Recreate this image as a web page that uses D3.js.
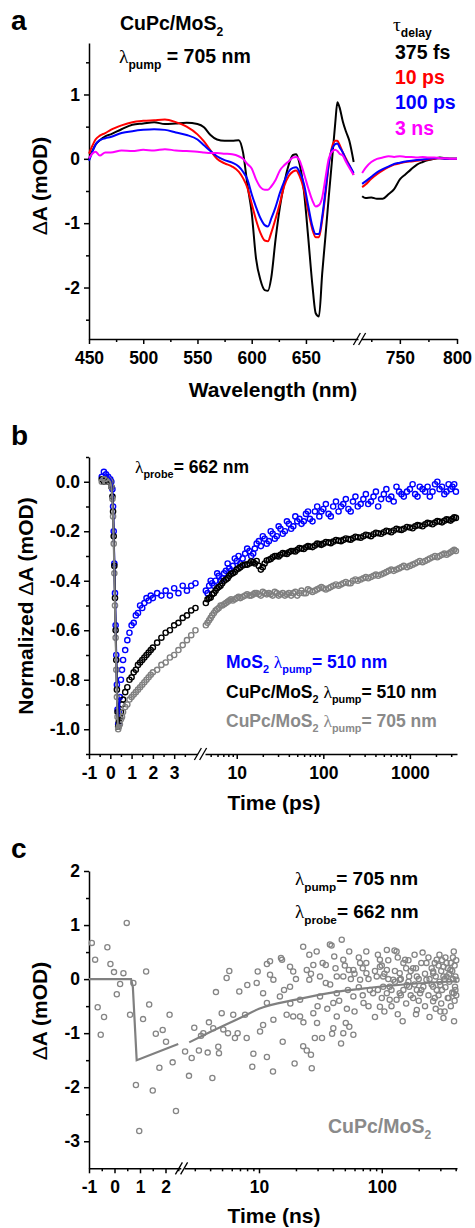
<!DOCTYPE html>
<html>
<head>
<meta charset="utf-8">
<script src="https://cdn.jsdelivr.net/npm/d3@7"></script>
<style>
  body { margin: 0; background: #fff; }
  svg { display: block; font-family: "Liberation Sans", Arial, sans-serif; font-weight: bold; }
  .axis path, .axis line { stroke: #000; stroke-width: 1.5; }
  .axis text { font-family: "Liberation Sans", Arial, sans-serif; font-weight: bold; font-size: 17.5px; fill: #000; }
</style>
</head>
<body>
<script>
// ---------- panel a: transient spectra ----------
const wavelengths = [450, 453, 456, 460, 465, 470, 480, 490, 500, 510, 520, 530, 540, 550, 556, 562, 568, 575, 582, 588,
  592, 596, 600, 604, 608, 612, 615, 618, 622, 626, 630, 634, 638, 641, 644, 648, 652, 656, 659, 662,
  665, 668, 671, 674, 677, 679, 681, 684, 687, 690, 694,
  717, 720, 725, 730, 735, 740, 745, 750, 755, 760, 765, 770, 775, 780, 785, 790, 795, 800];
const delay375fs = [0.0, 0.12, 0.22, 0.29, 0.35, 0.38, 0.46, 0.53, 0.55, 0.57, 0.54, 0.55, 0.56, 0.54, 0.49, 0.37, 0.3, 0.28, 0.28, 0.29,
  0.1, -0.4, -0.84, -1.55, -1.88, -2.04, -2.05, -1.85, -1.25, -0.75, -0.38, -0.1, 0.06, 0.07, -0.07, -0.48, -1.2, -1.97, -2.4, -2.45,
  -1.78, -1.2, -0.6, -0.03, 0.55, 0.88, 0.8, 0.58, 0.42, 0.28, -0.05,
  -0.58, -0.61, -0.6, -0.62, -0.62, -0.55, -0.47, -0.32, -0.24, -0.16, -0.09, -0.05, -0.02, 0.0, 0.02, 0.01, 0.0, 0.0];
const delay10ps = [0.08, 0.2, 0.3, 0.36, 0.4, 0.45, 0.52, 0.57, 0.59, 0.6, 0.61, 0.57, 0.5, 0.38, 0.27, 0.13, 0.0, -0.07, -0.12, -0.2,
  -0.3, -0.45, -0.7, -0.95, -1.15, -1.27, -1.28, -1.15, -0.93, -0.69, -0.42, -0.27, -0.2, -0.18, -0.26, -0.47, -0.8, -1.1, -1.22, -1.22,
  -0.95, -0.55, -0.1, 0.18, 0.28, 0.28, 0.22, 0.1, 0.0, -0.1, -0.25,
  -0.44, -0.4, -0.31, -0.24, -0.18, -0.13, -0.09, -0.07, -0.05, -0.04, -0.03, -0.02, -0.01, 0.0, 0.01, 0.0, 0.0, 0.0];
const delay100ps = [-0.03, 0.1, 0.22, 0.29, 0.32, 0.34, 0.4, 0.43, 0.45, 0.46, 0.45, 0.41, 0.37, 0.3, 0.21, 0.12, 0.04, -0.02, -0.06, -0.12,
  -0.2, -0.32, -0.55, -0.75, -0.92, -1.03, -1.05, -0.93, -0.75, -0.53, -0.35, -0.2, -0.14, -0.13, -0.2, -0.38, -0.72, -1.05, -1.17, -1.17,
  -0.9, -0.5, -0.08, 0.15, 0.23, 0.24, 0.18, 0.1, -0.02, -0.1, -0.22,
  -0.39, -0.35, -0.28, -0.21, -0.16, -0.12, -0.08, -0.06, -0.04, -0.03, -0.02, -0.01, 0.0, 0.01, 0.01, 0.0, 0.0, 0.0];
const delay3ns = [0.01, 0.08, 0.11, 0.05, 0.1, 0.1, 0.13, 0.12, 0.14, 0.13, 0.15, 0.13, 0.12, 0.11, 0.1, 0.09, 0.09, 0.08, 0.07, 0.04,
  0.0, -0.08, -0.15, -0.32, -0.44, -0.48, -0.48, -0.43, -0.33, -0.18, -0.1, -0.04, 0.02, 0.03, -0.02, -0.22, -0.45, -0.65, -0.74, -0.72,
  -0.6, -0.3, 0.0, 0.11, 0.14, 0.12, 0.08, 0.05, -0.05, -0.14, -0.25,
  -0.22, -0.14, -0.05, 0.0, 0.02, 0.04, 0.03, 0.04, 0.03, 0.03, 0.02, 0.03, 0.02, 0.02, 0.01, 0.01, 0.0, 0.0];
const delayLabels = ["375 fs", "10 ps", "100 ps", "3 ns"];

// ---------- panel b: normalized kinetics at 662 nm ----------
const timesB = [-0.4, -0.3, -0.2, -0.1, 0, 0.05, 0.1, 0.13, 0.16, 0.19, 0.22, 0.25, 0.28, 0.31, 0.34, 0.37, 0.4, 0.45, 0.5, 0.55,
  0.6, 0.7, 0.8, 0.9, 1.0, 1.1, 1.2, 1.3, 1.4, 1.5, 1.6, 1.7, 1.8, 1.9, 2.0, 2.2, 2.4, 2.6, 2.8, 3.0, 3.2, 3.4, 3.6, 3.8, 4.0,
  4.4, 4.6, 4.8, 5.0, 5.2, 5.45, 5.7, 5.95, 6.2, 6.5, 6.8, 7.15, 7.5, 7.85, 8.2, 8.6, 9, 9.5, 10, 10.5,
  11, 11.7, 12.5, 13.2, 14, 14.7, 15.5, 16.2, 17, 18, 19, 20, 21, 22.2, 23.5, 24.7, 26, 27.5, 29, 30.5,
  32, 34, 36, 38, 40, 42.5, 45, 47.5, 50, 53, 56, 59.5, 63, 66.5, 70, 75, 80, 85, 90, 95,
  100, 107, 115, 122, 130, 140, 150, 160, 170, 182, 195, 207, 220, 235, 250, 270, 290, 310, 330, 355,
  380, 405, 430, 465, 500, 535, 570, 610, 650, 700, 750, 800, 850, 925, 1000, 1075, 1150, 1225, 1300, 1400,
  1500, 1600, 1700, 1825, 1950, 2075, 2200, 2350, 2500, 2650, 2800, 2950, 3100, 3250, 3400];
const mos2Pump510 = [0.02, 0.04, 0.03, 0.02, 0.01, 0.0, -0.03, -0.1, -0.2, -0.33, -0.45, -0.58, -0.7, -0.82, -0.92, -0.98, -0.93, -0.87, -0.8, -0.76,
  -0.72, -0.68, -0.64, -0.61, -0.58, -0.57, -0.54, -0.53, -0.5, -0.51, -0.49, -0.47, -0.48, -0.46, -0.47, -0.45, -0.46, -0.44, -0.46, -0.43, -0.45, -0.42, -0.44, -0.42, -0.41,
  -0.44, -0.45, -0.42, -0.4, -0.41, -0.42, -0.4, -0.37, -0.38, -0.4, -0.39, -0.37, -0.36, -0.33, -0.35, -0.36, -0.34, -0.31, -0.32, -0.3,
  -0.33, -0.31, -0.29, -0.27, -0.28, -0.3, -0.29, -0.27, -0.25, -0.24, -0.26, -0.22, -0.23, -0.25, -0.24, -0.2, -0.21, -0.23, -0.22, -0.18,
  -0.19, -0.21, -0.2, -0.16, -0.17, -0.19, -0.18, -0.14, -0.16, -0.15, -0.17, -0.16, -0.13, -0.12, -0.15, -0.16, -0.12, -0.1, -0.14, -0.12,
  -0.11, -0.09, -0.13, -0.14, -0.1, -0.08, -0.12, -0.1, -0.09, -0.07, -0.11, -0.12, -0.08, -0.06, -0.1, -0.09, -0.07, -0.05, -0.09, -0.08,
  -0.06, -0.04, -0.1, -0.07, -0.05, -0.03, -0.07, -0.06, -0.08, -0.02, -0.04, -0.05, -0.06, -0.04, -0.03, -0.01, -0.05, -0.06, -0.02, -0.03,
  -0.04, -0.02, -0.06, -0.04, -0.01, 0.0, -0.03, -0.02, -0.05, -0.04, -0.01, -0.03, -0.02, -0.01, -0.04];
const cupcPump510 = [0.01, 0.0, 0.01, 0.0, 0.0, -0.02, -0.06, -0.12, -0.22, -0.34, -0.47, -0.6, -0.72, -0.84, -0.93, -0.99, -0.97, -0.95, -0.93, -0.9,
  -0.88, -0.85, -0.83, -0.8, -0.79, -0.77, -0.76, -0.74, -0.73, -0.72, -0.71, -0.7, -0.69, -0.68, -0.67, -0.65, -0.63, -0.61, -0.6, -0.58, -0.57, -0.55, -0.54, -0.52, -0.51,
  -0.49, -0.475, -0.47, -0.468, -0.455, -0.45, -0.44, -0.43, -0.425, -0.42, -0.41, -0.4, -0.395, -0.39, -0.38, -0.372, -0.37, -0.365, -0.355, -0.35,
  -0.345, -0.338, -0.335, -0.335, -0.33, -0.322, -0.325, -0.33, -0.32, -0.34, -0.355, -0.345, -0.33, -0.318, -0.315, -0.312, -0.305, -0.3, -0.3, -0.302,
  -0.295, -0.288, -0.29, -0.292, -0.285, -0.28, -0.28, -0.282, -0.275, -0.268, -0.27, -0.272, -0.265, -0.26, -0.262, -0.264, -0.258, -0.25, -0.252, -0.255,
  -0.25, -0.244, -0.245, -0.248, -0.242, -0.236, -0.238, -0.24, -0.235, -0.229, -0.232, -0.234, -0.228, -0.222, -0.224, -0.226, -0.22, -0.214, -0.216, -0.22,
  -0.212, -0.206, -0.208, -0.21, -0.204, -0.198, -0.2, -0.204, -0.197, -0.19, -0.193, -0.195, -0.19, -0.183, -0.185, -0.188, -0.18, -0.175, -0.177, -0.18,
  -0.172, -0.166, -0.168, -0.172, -0.165, -0.159, -0.161, -0.164, -0.158, -0.152, -0.154, -0.157, -0.15, -0.144, -0.146];
const cupcPump705 = [0.0, 0.01, 0.0, 0.01, 0.0, -0.02, -0.07, -0.14, -0.25, -0.37, -0.5, -0.63, -0.76, -0.87, -0.95, -1.0, -0.99, -0.98, -0.96, -0.95,
  -0.93, -0.91, -0.9, -0.88, -0.87, -0.86, -0.85, -0.84, -0.83, -0.82, -0.81, -0.8, -0.79, -0.78, -0.77, -0.76, -0.74, -0.73, -0.71, -0.7, -0.68, -0.66, -0.64, -0.62, -0.6,
  -0.58, -0.57, -0.56, -0.55, -0.54, -0.53, -0.52, -0.515, -0.51, -0.5, -0.5, -0.495, -0.49, -0.485, -0.48, -0.475, -0.48, -0.475, -0.47, -0.465,
  -0.47, -0.465, -0.46, -0.455, -0.46, -0.46, -0.455, -0.45, -0.45, -0.455, -0.46, -0.445, -0.45, -0.455, -0.45, -0.455, -0.46, -0.445, -0.45, -0.46,
  -0.455, -0.45, -0.46, -0.455, -0.45, -0.46, -0.45, -0.445, -0.46, -0.45, -0.44, -0.45, -0.45, -0.435, -0.44, -0.445, -0.44, -0.435, -0.43, -0.425,
  -0.43, -0.435, -0.43, -0.425, -0.42, -0.415, -0.42, -0.415, -0.41, -0.405, -0.41, -0.41, -0.4, -0.395, -0.4, -0.395, -0.39, -0.385, -0.39, -0.385,
  -0.38, -0.375, -0.38, -0.375, -0.37, -0.365, -0.36, -0.355, -0.36, -0.355, -0.35, -0.345, -0.34, -0.345, -0.34, -0.335, -0.33, -0.325, -0.32, -0.325,
  -0.32, -0.315, -0.31, -0.305, -0.3, -0.305, -0.3, -0.295, -0.29, -0.295, -0.29, -0.285, -0.28, -0.275, -0.28];

// ---------- panel c: CuPc/MoS2 long-time kinetics ----------
// first 27 points sit on the linear (-1..2.6 ns) part of the axis
const timesC = [-0.89, -0.76, -0.66, -0.54, -0.41, -0.28, -0.16, -0.02, 0.09, 0.22, 0.35, 0.48, 0.61, 0.74, 0.84, 0.97, 1.12, 1.24, 1.36, 1.5,
  1.62, 1.76, 1.89, 2.02, 2.16, 2.28, 2.41,
  2.5, 2.69, 2.83, 2.97, 3.24, 3.37, 3.52, 3.82, 3.91, 4.17, 4.24, 4.46, 4.66, 4.72, 4.97, 5.12, 5.45, 5.59, 5.73, 6.17,
  6.37, 6.7, 6.91, 7.7, 7.94, 8.03, 8.82, 9.0, 9.58, 9.76, 10.2, 10.8, 10.8, 11.6, 11.6, 11.6, 12.3, 12.3, 13.0, 13.1,
  13.1, 14.8, 15.1, 15.4, 15.6, 16.8, 17.9, 17.9, 19.0, 19.0, 19.5, 21.6, 21.6, 22.9, 22.9, 24.5, 24.5, 25.7, 25.7, 26.5,
  26.9, 27.7, 27.7, 28.5, 29.5, 29.7, 31.4, 31.4, 32.6, 35, 35, 37.8, 39, 39.4, 40.3, 40.3, 41, 43, 43, 43, 46.6, 47.2,
  48.6, 48.6, 48.6, 50.9, 53, 54, 54.3, 54.4, 58.7, 58.7, 58.7, 66.6, 66.6, 71, 74.8, 74.8, 75, 80, 85, 91, 96.6, 96.6,
  96.6, 102.7, 102.7, 110, 110, 110, 116, 116, 124, 127, 132, 132, 140, 140, 140, 148, 150, 150, 155, 160, 167, 167, 180,
  180, 193, 193, 193, 205, 215, 218, 231, 231, 262, 262, 262, 262, 280, 280, 300, 300, 318, 318, 318, 337, 337, 350, 362,
  386, 386, 388, 395, 406,
  16, 18, 20, 23, 26.5, 30, 33, 36, 38, 42, 45, 50, 52, 56,
  60, 60, 65, 65, 70, 70, 78, 78, 88, 88, 93, 93, 100, 100, 105, 105, 113, 113, 120, 120,
  128, 128, 135, 135, 143, 143, 158, 158, 165, 165, 172, 172, 185, 185, 190, 190, 200, 200, 210, 210,
  225, 225, 240, 240, 245, 245, 255, 255, 270, 270, 275, 275, 290, 290, 295, 295, 305, 305, 310, 310,
  325, 325, 330, 330, 345, 345, 355, 355, 365, 365, 375, 375, 380, 380, 392, 392, 398, 398, 404, 404];
const deltaAC = [0.67, 0.36, -0.52, -1.03, -0.7, 0.59, 0.28, 0.13, -0.28, -0.09, 0.11, 1.04, -0.66, -0.07, -1.96, -2.81, -0.74, 0.14, -0.47, -2.06,
  -1.01, -1.64, -0.94, -1.16, -0.66, -1.54, -2.44,
  -1.34, -1.79, -1.46, -0.9, -1.32, -1.05, -1.0, -1.36, -0.8, -1.83, -0.91, -0.24, -1.25, -1.37, -0.63, -0.93, 0.02, -1.0, 0.15, -0.66,
  -1.09, -1.0, -0.23, -0.66, -1.09, -0.11, -1.62, -1.38, -0.07, 0.14, -0.97, -0.85, -0.26, -1.44, 0.28, -0.44, 0.08, 0.33, -1.71, -0.01,
  -0.75, -0.32, 0.39, 0.36, -1.16, -0.66, 0.23, -0.14, 0.14, -0.69, -1.56, -0.69, -0.38, 0.6, -1.24, -1.32, 0.17, 0.45, -0.01, -1.4,
  -1.65, 0.26, -0.63, -1.09, 0.51, -0.81, 0.05, -0.32, -1.09, 0.26, -0.07, 0.64, 0.62, -1.01, -0.91, -0.44, 0.42, 0.05, -0.26, -0.69, -1.19, 0.73,
  0.36, 0.05, -1.0, -0.81, -0.2, 0.17, 0.51, -0.88, 0.17, -0.32, -1.03, -0.01, 0.3, -0.44, 0.51, 0.3, 0.11, -0.2, -0.26, 0.05, 0.23, 0.36,
  -0.51, 0.05, -0.14, 0.54, -0.26, 0.17, -0.38, -0.14, -0.01, 0.53, 0.51, -0.38, -0.01, -0.26, 0.11, -0.78, 0.3, -0.2, 0.36, -0.11, 0.05, -0.14, 0.2,
  -0.35, 0.05, -0.2, -0.57, -0.26, 0.49, -0.14, 0.3, -0.01, 0.11, -0.14, 0.14, -0.41, 0.36, -0.2, -0.6, -0.11, -0.72, 0.23, 0.05, 0.05, 0.3, -0.35, 0.17,
  0.51, -0.26, -0.78, -0.14, -0.01,
  -0.2, -0.45, 0.0, -0.8, 0.1, -0.5, 0.3, -0.55, -0.1, 0.2, -0.4, 0.25, -0.55, 0.0,
  0.1, -0.6, -0.15, 0.4, -0.3, 0.2, -0.5, 0.0, 0.15, -0.7, -0.2, 0.45, -0.35, 0.25, -0.6, 0.1, 0.0, 0.35, -0.2, -0.5,
  0.15, -0.05, -0.65, 0.4, 0.0, -0.3, 0.2, -0.45, -0.05, 0.35, -0.3, 0.15, 0.45, -0.1, -0.65, 0.2, 0.0, -0.4, 0.3, -0.2,
  0.1, -0.5, -0.3, 0.4, 0.0, -0.7, 0.2, -0.1, -0.35, 0.3, 0.05, -0.55, 0.25, -0.3, -0.05, 0.45, 0.15, -0.45, -0.2, 0.35,
  0.0, -0.6, 0.4, -0.15, 0.2, -0.35, 0.1, -0.05, 0.3, -0.5, -0.25, 0.15, 0.0, 0.4, -0.4, 0.25, 0.05, -0.2, 0.35, -0.3];
const fitTimesC = [-1, 0.65, 0.72, 0.87, 2.5, 2.7, 4, 7, 10, 20, 44, 80, 150, 410];
const fitValuesC = [0, 0, -0.15, -1.5, -1.2, -1.17, -0.98, -0.72, -0.55, -0.38, -0.23, -0.16, -0.1, -0.04];

const black = "#000", red = "#ff0000", blue = "#0000ff", magenta = "#ff00ff", grey = "#808080";

const svg = d3.select("body").append("svg").attr("width", 475).attr("height", 1228);
const X0 = 89, X1 = 457;

// text with greek letters and subscripts
function richText(x, y, parts, size, color, anchor) {
  const t = svg.append("text").attr("x", x).attr("y", y).attr("font-size", size)
    .attr("fill", color).attr("text-anchor", anchor || "start");
  let shift = 0;
  parts.forEach(([s, kind]) => {
    const sp = t.append("tspan").text(s);
    const want = kind === "sub" ? Math.round(size * 0.3) : 0;
    if (want !== shift) { sp.attr("dy", want - shift); shift = want; }
    if (kind === "sub") sp.attr("font-size", size * 0.62);
    if (kind === "greek") sp.attr("font-family", "'Liberation Serif', 'DejaVu Serif', serif").attr("font-weight", "normal");
  });
  return t;
}

function yTitle(x, cy, parts) {
  const t = svg.append("text").attr("transform", `translate(${x},${cy}) rotate(-90)`)
    .attr("text-anchor", "middle").attr("font-size", 21);
  parts.forEach(([s, kind]) => {
    const sp = t.append("tspan").text(s);
    if (kind === "greek") sp.attr("font-weight", "normal");
  });
}

function axes(yScale, yMajor, yMinor, yFmt, segs, bottom, breakX) {
  const gy = svg.append("g").attr("class", "axis").attr("transform", `translate(${X0},0)`);
  gy.call(d3.axisLeft(yScale).tickValues(yMajor).tickFormat(yFmt).tickSize(5).tickPadding(4).tickSizeOuter(0));
  gy.append("g").call(d3.axisLeft(yScale).tickValues(yMinor).tickFormat("").tickSize(3).tickSizeOuter(0))
    .select(".domain").remove();
  segs.forEach((s) => {
    const gx = svg.append("g").attr("class", "axis").attr("transform", `translate(0,${bottom})`);
    gx.call(d3.axisBottom(s.scale).tickValues(s.major).tickFormat((d) => String(d)).tickSize(5).tickPadding(7.5).tickSizeOuter(0));
    gx.append("g").call(d3.axisBottom(s.scale).tickValues(s.minor).tickFormat("").tickSize(3).tickSizeOuter(0))
      .select(".domain").remove();
  });
  // the // break mark
  const bk = svg.append("g").attr("stroke", "#000").attr("stroke-width", 1.3);
  [-2.6, 2.6].forEach((dx) =>
    bk.append("line").attr("x1", breakX + dx - 3.5).attr("y1", bottom + 6)
      .attr("x2", breakX + dx + 3.5).attr("y2", bottom - 6));
}

// ================= panel a =================
const cutA = 700;
const xa1 = d3.scaleLinear().domain([450, 698]).range([X0, 358]);
const xa2 = d3.scaleLinear().domain([716, 800]).range([361, X1]);
const xa = (v) => (v <= cutA ? xa1(v) : xa2(v));
const ya = d3.scaleLinear().domain([-2.8, 1.8]).range([339, 43]);

axes(ya, [-2, -1, 0, 1], [-2.5, -1.5, -0.5, 0.5, 1.5], (d) => String(d),
  [{ scale: xa1, major: [450, 500, 550, 600, 650], minor: [475, 525, 575, 625, 675] },
   { scale: xa2, major: [750, 800], minor: [725, 775] }], 339, 359.5);

const spectra = [delay375fs, delay10ps, delay100ps, delay3ns];
const specColors = [black, red, blue, magenta];
const lineA = d3.line().x((d) => xa(d[0])).y((d) => ya(d[1])).curve(d3.curveMonotoneX);
spectra.forEach((vals, k) => {
  const pts = wavelengths.map((w, i) => [w, vals[i]]);
  [pts.filter((d) => d[0] < cutA), pts.filter((d) => d[0] > cutA)].forEach((seg) => {
    svg.append("path").attr("d", lineA(seg)).attr("fill", "none")
      .attr("stroke", specColors[k]).attr("stroke-width", 2);
  });
});

richText(11, 30, [["a", ""]], 28, black);
richText(120, 30, [["CuPc/MoS", ""], ["2", "sub"]], 19.5, black);
richText(119, 63, [["λ", "greek"], ["pump", "sub"], [" = 705 nm", ""]], 19.5, black);
richText(393, 31, [["τ", "greek"], ["delay", "sub"]], 19.5, black);
delayLabels.forEach((lab, i) => richText(395, 59 + i * 25.2, [[lab, ""]], 19.5, specColors[i]));
svg.append("text").attr("x", 273).attr("y", 397).attr("text-anchor", "middle").attr("font-size", 21).text("Wavelength (nm)");
yTitle(47, 186, [["Δ", "greek"], ["A (mOD)", ""]]);

// ================= panel b =================
const cutB = 4.2;
const xb1 = d3.scaleLinear().domain([-1, 4.1]).range([X0, 197.6]);
const xb2 = d3.scaleLog().domain([4.3, 3500]).range([205, X1]);
const xb = (v) => (v <= cutB ? xb1(v) : xb2(v));
const yb = d3.scaleLinear().domain([-1.1, 0.1]).range([754, 457]);

axes(yb, [0, -0.2, -0.4, -0.6, -0.8, -1.0], [0.1, -0.1, -0.3, -0.5, -0.7, -0.9, -1.1], (d) => d.toFixed(1),
  [{ scale: xb1, major: [-1, 0, 1, 2, 3], minor: [-0.5, 0.5, 1.5, 2.5, 3.5] },
   { scale: xb2, major: [10, 100, 1000],
     minor: [5, 6, 7, 8, 9, 20, 30, 40, 50, 60, 70, 80, 90, 200, 300, 400, 500, 600, 700, 800, 900, 2000, 3000] }], 754, 200.5);

const seriesB = [
  { values: mos2Pump510, color: blue },
  { values: cupcPump510, color: black },
  { values: cupcPump705, color: grey },
];
seriesB.forEach((s) => {
  svg.append("g").selectAll("circle")
    .data(timesB.map((t, i) => ({ t, v: s.values[i] })))
    .join("circle")
    .attr("cx", (d) => xb(d.t)).attr("cy", (d) => yb(d.v)).attr("r", 2.6)
    .attr("fill", "none").attr("stroke", s.color).attr("stroke-width", 1.4);
});
// fit lines over the fast drop
const lineB = d3.line().x((d) => xb(d.t)).y((d) => yb(d.v));
seriesB.forEach((s) => {
  const pts = timesB.map((t, i) => ({ t, v: s.values[i] })).filter((d) => d.t >= -0.2 && d.t <= 0.45);
  svg.append("path").attr("d", lineB(pts)).attr("fill", "none").attr("stroke", s.color).attr("stroke-width", 2);
});

richText(11, 445, [["b", ""]], 28, black);
richText(135, 473, [["λ", "greek"], ["probe", "sub"], ["= 662 nm", ""]], 17.5, black);
richText(226, 668, [["MoS", ""], ["2", "sub"], [" ", ""], ["λ", "greek"], ["pump", "sub"], ["= 510 nm", ""]], 17.5, blue);
richText(226, 698, [["CuPc/MoS", ""], ["2", "sub"], [" ", ""], ["λ", "greek"], ["pump", "sub"], ["= 510 nm", ""]], 17.5, black);
richText(226, 727, [["CuPc/MoS", ""], ["2", "sub"], [" ", ""], ["λ", "greek"], ["pump", "sub"], ["= 705 nm", ""]], 17.5, "#8a8a8a");
svg.append("text").attr("x", 274).attr("y", 810).attr("text-anchor", "middle").attr("font-size", 21).text("Time (ps)");
yTitle(33, 606, [["Normalized ", ""], ["Δ", "greek"], ["A (mOD)", ""]]);

// ================= panel c =================
const xc1 = d3.scaleLinear().domain([-1, 2.6]).range([X0, 180.8]);
const xc2 = d3.scaleLog().domain([2.45, 410]).range([184, X1]);
const xc = (v, i) => (i < 27 ? xc1(v) : xc2(v));
const yc = d3.scaleLinear().domain([-3.5, 2]).range([1168.3, 871]);

axes(yc, [2, 1, 0, -1, -2, -3], [1.5, 0.5, -0.5, -1.5, -2.5], (d) => String(d),
  [{ scale: xc1, major: [-1, 0, 1, 2], minor: [-0.5, 0.5, 1.5, 2.5] },
   { scale: xc2, major: [10, 100],
     minor: [3, 4, 5, 6, 7, 8, 9, 20, 30, 40, 50, 60, 70, 80, 90, 200, 300, 400] }], 1168.3, 181.5);

svg.append("g").selectAll("circle")
  .data(timesC.map((t, i) => ({ t, v: deltaAC[i], i })))
  .join("circle")
  .attr("cx", (d) => xc(d.t, d.i)).attr("cy", (d) => yc(d.v)).attr("r", 2.6)
  .attr("fill", "none").attr("stroke", "#858585").attr("stroke-width", 1.3);

const fitC = fitTimesC.map((t, i) => ({ t, v: fitValuesC[i] }));
const lineC1 = d3.line().x((d) => xc1(d.t)).y((d) => yc(d.v));
const lineC2 = d3.line().x((d) => xc2(d.t)).y((d) => yc(d.v)).curve(d3.curveMonotoneX);
svg.append("path").attr("d", lineC1(fitC.filter((d) => d.t <= 2.5))).attr("fill", "none")
  .attr("stroke", grey).attr("stroke-width", 2.2);
svg.append("path").attr("d", lineC2(fitC.filter((d) => d.t > 2.5))).attr("fill", "none")
  .attr("stroke", grey).attr("stroke-width", 2.2);

richText(11, 858, [["c", ""]], 28, black);
richText(295, 885, [["λ", "greek"], ["pump", "sub"], ["= 705 nm", ""]], 19, black);
richText(295, 918, [["λ", "greek"], ["probe", "sub"], ["= 662 nm", ""]], 19, black);
richText(328, 1133, [["CuPc/MoS", ""], ["2", "sub"]], 19.5, "#8a8a8a");
svg.append("text").attr("x", 274).attr("y", 1223).attr("text-anchor", "middle").attr("font-size", 21).text("Time (ns)");
yTitle(47, 1011, [["Δ", "greek"], ["A (mOD)", ""]]);
</script>
</body>
</html>
